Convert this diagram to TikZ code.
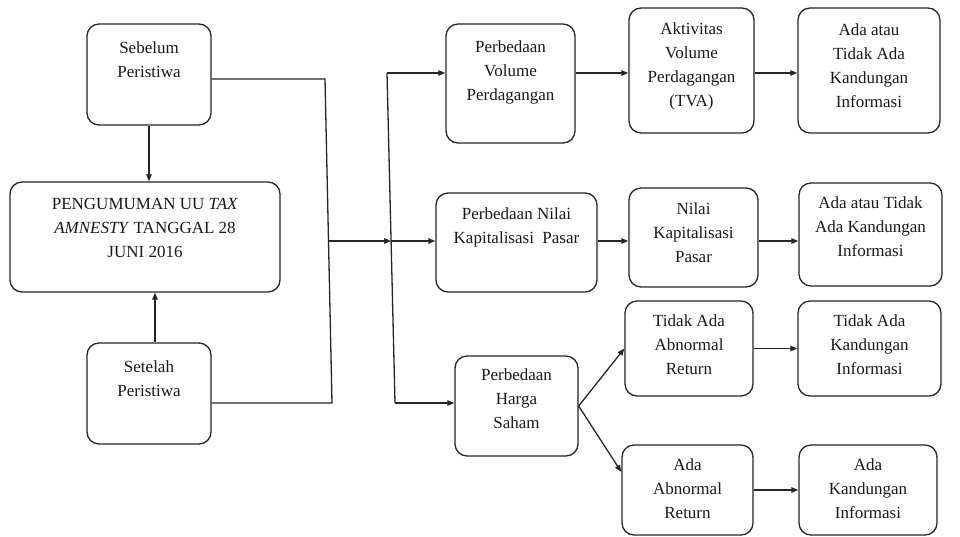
\documentclass[tikz,border=0pt]{standalone}
\usepackage{fontspec}
\setmainfont{Liberation Serif}
\usetikzlibrary{arrows.meta}
\tikzset{
  box/.style={draw=black!85, line width=1.3pt, rounded corners=12pt, fill=white, inner sep=0pt},
  txt/.style={align=center, inner sep=0pt, text=black!90, font=\fontsize{17}{24}\selectfont},
  conn/.style={draw=black!85, line width=1.3pt},
  arr/.style={conn, -{Triangle[length=7pt,width=5.5pt]}}
}
\begin{document}
\begin{tikzpicture}[x=1pt,y=-1pt]
\useasboundingbox (0,0) rectangle (960,536);
% boxes
\node[box, minimum width=124pt, minimum height=101pt] (seb) at (149,74.5) {};
\node[box, minimum width=270pt, minimum height=110pt] (peng) at (145,237) {};
\node[box, minimum width=124pt, minimum height=101pt] (set) at (149,393.5) {};
\node[box, minimum width=129pt, minimum height=119pt] (pv) at (510.5,83.5) {};
\node[box, minimum width=125pt, minimum height=125pt] (tva) at (691.5,70.5) {};
\node[box, minimum width=142pt, minimum height=125pt] (ada1) at (869,70.5) {};
\node[box, minimum width=161pt, minimum height=99pt] (pn) at (516.5,242.5) {};
\node[box, minimum width=129pt, minimum height=99pt] (nk) at (693.5,237.5) {};
\node[box, minimum width=143pt, minimum height=103pt] (ada2) at (870.5,234.5) {};
\node[box, minimum width=123pt, minimum height=100pt] (hs) at (516.5,406) {};
\node[box, minimum width=128pt, minimum height=95pt] (tar) at (689,348.5) {};
\node[box, minimum width=143pt, minimum height=95pt] (tak) at (869.5,348.5) {};
\node[box, minimum width=131pt, minimum height=90pt] (aar) at (687.5,490) {};
\node[box, minimum width=138pt, minimum height=90pt] (aak) at (868,490) {};
% texts
\node[txt] (tseb) at (149,60) {Sebelum\\Peristiwa};
\node[txt] (tpeng) at (145,227.5) {PENGUMUMAN UU \textit{TAX}\\\textit{AMNESTY} TANGGAL 28\\JUNI 2016};
\node[txt] (tset) at (149,379) {Setelah\\Peristiwa};
\node[txt] (tpv) at (510.5,72) {Perbedaan\\Volume\\Perdagangan};
\node[txt] (ttva) at (691.5,66) {Aktivitas\\Volume\\Perdagangan\\(TVA)};
\node[txt] (tada1) at (869,66) {Ada atau\\Tidak Ada\\Kandungan\\Informasi};
\node[txt] (tpn) at (516.5,227.5) {Perbedaan Nilai\\Kapitalisasi~ Pasar};
\node[txt] (tnk) at (693.5,232.5) {Nilai\\Kapitalisasi\\Pasar};
\node[txt] (tada2) at (870.5,227) {Ada atau Tidak\\Ada Kandungan\\Informasi};
\node[txt] (ths) at (516.5,399) {Perbedaan\\Harga\\Saham};
\node[txt] (ttar) at (689,345) {Tidak Ada\\Abnormal\\Return};
\node[txt] (ttak) at (869.5,345) {Tidak Ada\\Kandungan\\Informasi};
\node[txt] (taar) at (687.5,489) {Ada\\Abnormal\\Return};
\node[txt] (taak) at (868,489) {Ada\\Kandungan\\Informasi};
% junction points
\coordinate (lt) at (325,79);
\coordinate (lm) at (328.5,241);
\coordinate (lb) at (332,403);
\coordinate (rt) at (387,73);
\coordinate (rm) at (391,241);
\coordinate (rb) at (395,403);
% connectors
\draw[arr] (seb.south) -- (seb.south |- peng.north);
\draw[arr] ([xshift=6pt]set.north) -- ([xshift=6pt]set.north |- peng.south);
\draw[conn] (seb.east |- lt) -- (lt) -- (lb) -- (set.east |- lb);
\draw[arr] (lm) -- (rm);
\draw[conn] (rt) -- (rb);
\draw[arr] (rm) -- (pn.west |- rm);
\draw[arr] (rt) -- (pv.west |- rt);
\draw[arr] (rb) -- (hs.west |- rb);
\draw[arr] (pv.east |- rt) -- (tva.west |- rt);
\draw[arr] (tva.east |- rt) -- (ada1.west |- rt);
\draw[arr] (pn.east |- rm) -- (nk.west |- rm);
\draw[arr] (nk.east |- rm) -- (ada2.west |- rm);
\draw[arr] (hs.east) -- (tar.west);
\draw[arr] (hs.east) -- ([yshift=18pt]aar.west);
\draw[arr] (tar.east) -- (tak.west);
\draw[arr] (aar.east) -- (aak.west);
\end{tikzpicture}
\end{document}
